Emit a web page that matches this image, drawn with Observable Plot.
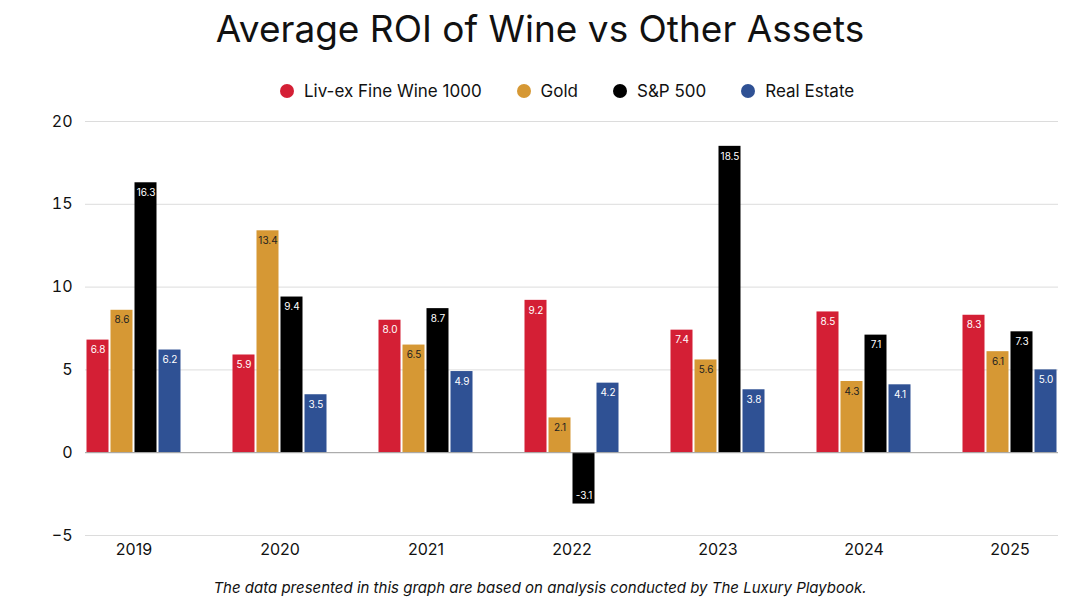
<!DOCTYPE html>
<html>
<head>
<meta charset="utf-8">
<script src="https://cdn.jsdelivr.net/npm/d3@7"></script>
<script src="https://cdn.jsdelivr.net/npm/@observablehq/plot@0.6"></script>
<style>
  html, body { margin: 0; padding: 0; background: #fff; }
  body { width: 1080px; height: 607px; position: relative; overflow: hidden; font-family: Inter, "Open Sans", sans-serif; color: #111; }
  #title { position: absolute; top: 6px; left: 0; width: 1080px; text-align: center; font-size: 37px; font-weight: 400; }
  #legend { position: absolute; top: 81px; left: 280px; display: flex; justify-content: flex-start; gap: 35px; font-size: 17px; }
  #legend .item { display: flex; align-items: center; gap: 10px; }
  #legend .dot { width: 14px; height: 14px; border-radius: 50%; display: inline-block; }
  #ylabel { position: absolute; left: 18px; top: 354px; transform: translate(-50%, -50%) rotate(-90deg); font-size: 24px; white-space: nowrap; }
  #chart { position: absolute; top: 110px; left: 0; }
  #caption { position: absolute; top: 578px; left: 0; width: 1080px; text-align: center; font-size: 15px; font-style: italic; }
</style>
</head>
<body>
<div id="title">Average ROI of Wine vs Other Assets</div>
<div id="legend"></div>
<div id="ylabel">Percentage (%)</div>
<div id="chart"></div>
<div id="caption">The data presented in this graph are based on analysis conducted by The Luxury Playbook.</div>
<script>
const years = ["2019", "2020", "2021", "2022", "2023", "2024", "2025"];
const seriesNames = ["Liv-ex Fine Wine 1000", "Gold", "S&P 500", "Real Estate"];
const seriesColors = ["#d41f35", "#d69834", "#000000", "#2f5194"];
const labelColors = ["#ffffff", "#222222", "#ffffff", "#ffffff"];
const wine = [6.8, 5.9, 8.0, 9.2, 7.4, 8.5, 8.3];
const gold = [8.6, 13.4, 6.5, 2.1, 5.6, 4.3, 6.1];
const sp500 = [16.3, 9.4, 8.7, -3.1, 18.5, 7.1, 7.3];
const realEstate = [6.2, 3.5, 4.9, 4.2, 3.8, 4.1, 5.0];
const yTicks = [-5, 0, 5, 10, 15, 20];

const seriesValues = [wine, gold, sp500, realEstate];

// Legend
const legend = document.getElementById("legend");
seriesNames.forEach((name, i) => {
  const item = document.createElement("div");
  item.className = "item";
  const dot = document.createElement("span");
  dot.className = "dot";
  dot.style.background = seriesColors[i];
  const label = document.createElement("span");
  label.textContent = name;
  item.appendChild(dot);
  item.appendChild(label);
  legend.appendChild(item);
});

const step = 24; // slot width within each year band
const marks = [
  Plot.ruleY(yTicks.filter(d => d !== 0), {stroke: "#dcdcdc", strokeWidth: 1})
];
seriesNames.forEach((name, i) => {
  const data = years.map((y, j) => ({year: y, value: seriesValues[i][j]}));
  marks.push(Plot.barY(data, {
    x: "year", y: "value",
    fill: seriesColors[i],
    insetLeft: i * step + 0.5,
    insetRight: (3 - i) * step + 0.5
  }));
  const dx = (i - 1.5) * step;
  marks.push(Plot.text(data.filter(d => d.value >= 0), {
    x: "year", y: "value", text: d => d.value.toFixed(1),
    dx, dy: 10, fill: labelColors[i], fontSize: 10
  }));
  marks.push(Plot.text(data.filter(d => d.value < 0), {
    x: "year", y: "value", text: d => d.value.toFixed(1),
    dx, dy: -8, fill: labelColors[i], fontSize: 10
  }));
});
marks.push(Plot.ruleY([0], {stroke: "#999", strokeWidth: 1}));

const plot = Plot.plot({
  width: 1080,
  height: 455,
  marginTop: 11,
  marginBottom: 30,
  marginLeft: 85,
  marginRight: 22,
  style: {fontFamily: "Inter, 'Open Sans', sans-serif", fontSize: "16px", color: "#111", background: "#fff"},
  x: {domain: years, paddingInner: 0.35, paddingOuter: 0, label: null, tickSize: 0, tickPadding: 8},
  y: {domain: [-5, 20], ticks: yTicks, label: null, tickSize: 0, tickPadding: 13},
  marks
});
document.getElementById("chart").appendChild(plot);
</script>
</body>
</html>
